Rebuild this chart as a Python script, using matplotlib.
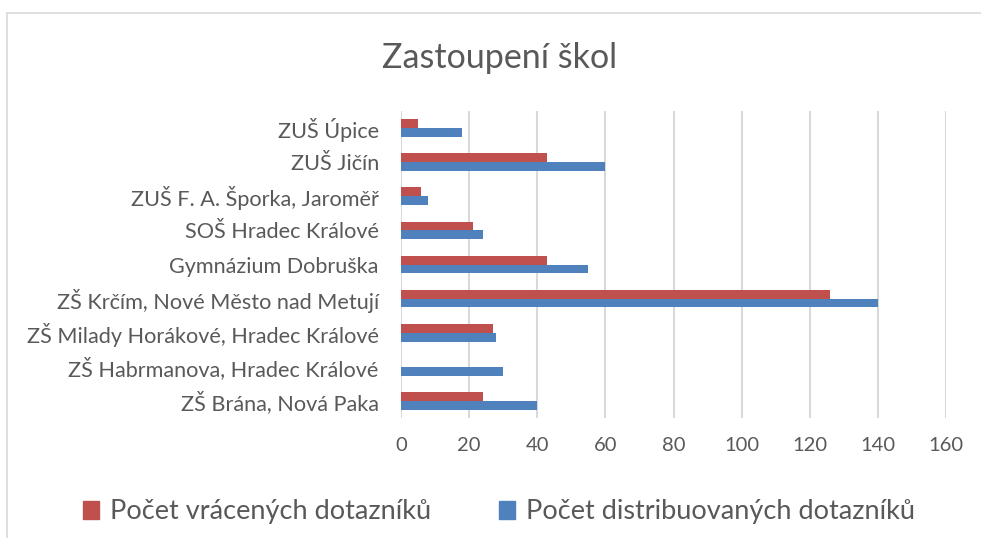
import matplotlib
matplotlib.use("Agg")
import matplotlib.pyplot as plt
from matplotlib.lines import Line2D
from matplotlib.patches import Patch
import numpy as np

categories = [
    "ZŠ Brána, Nová Paka",
    "ZŠ Habrmanova, Hradec Králové",
    "ZŠ Milady Horákové, Hradec Králové",
    "ZŠ Krčím, Nové Město nad Metují",
    "Gymnázium Dobruška",
    "SOŠ Hradec Králové",
    "ZUŠ F. A. Šporka, Jaroměř",
    "ZUŠ Jičín",
    "ZUŠ Úpice",
]
vracene = [24, 0, 27, 126, 43, 21, 6, 43, 5]
distribuovane = [40, 30, 28, 140, 55, 24, 8, 60, 18]
xticks = [0, 20, 40, 60, 80, 100, 120, 140, 160]
series_names = ["Počet vrácených dotazníků", "Počet distribuovaných dotazníků"]
title = "Zastoupení škol"

RED = "#C0504D"
BLUE = "#4F81BD"
TXT = "#595959"
GRID = "#D9D9D9"

plt.rcParams["font.family"] = ["Lato", "DejaVu Sans"]

fig = plt.figure(figsize=(9.81, 5.38), dpi=100)
ax = fig.add_axes([0.4088, 0.223, 0.9643 - 0.4088, 0.7937 - 0.223])

y = np.arange(len(categories))
h = 0.26
ax.barh(y + h / 2, vracene, height=h, color=RED, zorder=3)
ax.barh(y - h / 2, distribuovane, height=h, color=BLUE, zorder=3)

ax.set_xlim(0, 160)
ax.set_ylim(-0.5, len(categories) - 0.5)
ax.set_xticks(xticks)
ax.set_xticklabels([str(t) for t in xticks], fontsize=14.5, color=TXT)
ax.set_yticks(y)
ax.set_yticklabels(categories, fontsize=15.6, color=TXT)
ax.tick_params(axis="both", length=0)
ax.tick_params(axis="y", pad=16)
ax.tick_params(axis="x", pad=14)
for s in ax.spines.values():
    s.set_visible(False)
ax.grid(axis="x", color=GRID, linewidth=1.5, zorder=0)
ax.set_axisbelow(True)

fig.text(500 / 981, 1 - 58 / 538, title, ha="center", va="center", fontsize=24.5, color=TXT)

handles = [Patch(color=RED), Patch(color=BLUE)]
fig.legend(handles, series_names, loc="center", bbox_to_anchor=(499 / 981, 1 - 512 / 538),
           ncol=2, frameon=False, fontsize=19.5, labelcolor=TXT,
           handlelength=0.6, handleheight=0.6, handletextpad=0.4, columnspacing=2.5)

# chart border (top and left edges visible)
fig.add_artist(Line2D([7 / 981, 1.0], [1 - 13 / 538, 1 - 13 / 538], color=GRID, linewidth=1.2,
                      transform=fig.transFigure))
fig.add_artist(Line2D([7 / 981, 7 / 981], [1 - 13 / 538, 0.0], color=GRID, linewidth=1.2,
                      transform=fig.transFigure))

fig.savefig("out.png", dpi=100)
